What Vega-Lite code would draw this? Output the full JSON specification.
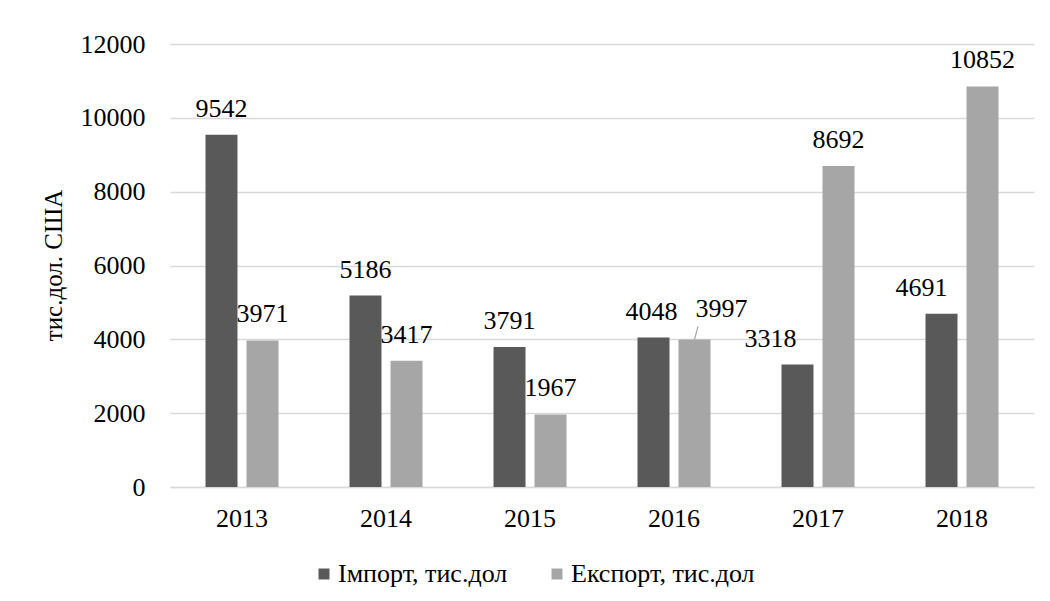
{
  "$schema": "https://vega.github.io/schema/vega-lite/v6.json",
  "autosize": "none",
  "width": 864,
  "height": 443,
  "padding": {"left": 170, "top": 44, "right": 16, "bottom": 114},
  "background": "white",
  "config": {
    "font": "Liberation Serif",
    "view": {"stroke": null},
    "text": {"font": "Liberation Serif"},
    "axis": {"labelFont": "Liberation Serif", "titleFont": "Liberation Serif", "labelFontSize": 26, "labelColor": "#000000", "titleColor": "#000000", "titleFontWeight": "normal", "titleFontSize": 25},
    "legend": {"labelFont": "Liberation Serif", "labelFontSize": 26, "labelColor": "#000000", "labelLimit": 400}
  },
  "data": {
    "values": [
      {"year": "2013", "series": "Імпорт, тис.дол", "value": 9542},
      {"year": "2013", "series": "Експорт, тис.дол", "value": 3971},
      {"year": "2014", "series": "Імпорт, тис.дол", "value": 5186},
      {"year": "2014", "series": "Експорт, тис.дол", "value": 3417},
      {"year": "2015", "series": "Імпорт, тис.дол", "value": 3791},
      {"year": "2015", "series": "Експорт, тис.дол", "value": 1967},
      {"year": "2016", "series": "Імпорт, тис.дол", "value": 4048},
      {"year": "2016", "series": "Експорт, тис.дол", "value": 3997},
      {"year": "2017", "series": "Імпорт, тис.дол", "value": 3318},
      {"year": "2017", "series": "Експорт, тис.дол", "value": 8692},
      {"year": "2018", "series": "Імпорт, тис.дол", "value": 4691},
      {"year": "2018", "series": "Експорт, тис.дол", "value": 10852}
    ]
  },
  "encoding": {
    "x": {
      "field": "year", "type": "nominal",
      "scale": {"paddingInner": 0.493, "paddingOuter": 0.2465},
      "axis": {"title": null, "labelAngle": 0, "ticks": false, "domainColor": "#d9d9d9", "domainWidth": 1.3, "labelPadding": 18}
    },
    "xOffset": {
      "field": "series", "type": "nominal",
      "sort": ["Імпорт, тис.дол", "Експорт, тис.дол"],
      "scale": {"paddingInner": 0.22, "paddingOuter": 0}
    },
    "y": {
      "field": "value", "type": "quantitative",
      "scale": {"domain": [0, 12000], "nice": false},
      "axis": {"title": "тис.дол. США", "values": [0, 2000, 4000, 6000, 8000, 10000, 12000], "format": "d", "domain": false, "ticks": false, "labelPadding": 25, "gridColor": "#d9d9d9", "gridWidth": 1.3, "titleX": -104, "titleY": 221, "titleAngle": -90, "titleAlign": "center"}
    }
  },
  "layer": [
    {
      "mark": {"type": "bar"},
      "encoding": {
        "color": {
          "field": "series", "type": "nominal",
          "sort": ["Імпорт, тис.дол", "Експорт, тис.дол"],
          "scale": {"domain": ["Імпорт, тис.дол", "Експорт, тис.дол"], "range": ["#595959", "#a6a6a6"]},
          "legend": {"title": null, "orient": "none", "direction": "horizontal", "legendX": 141, "legendY": 517, "symbolType": "square", "symbolSize": 120, "symbolStrokeWidth": 0, "labelOffset": 1, "columnPadding": 36, "labelLimit": 400}
        }
      }
    },
    {
      "transform": [{"filter": "datum.year != '2016' && datum.year != '2017' && datum.year != '2018' || datum.series == 'Експорт, тис.дол' && datum.year != '2016'"}],
      "mark": {"type": "text", "baseline": "bottom", "dy": -13, "fontSize": 26, "color": "#000000"},
      "encoding": {"text": {"field": "value", "type": "quantitative", "format": "d"}}
    },
    {
      "transform": [{"filter": "datum.year == '2016' && datum.series == 'Імпорт, тис.дол'"}],
      "mark": {"type": "text", "baseline": "bottom", "dy": -13, "dx": -2, "fontSize": 26, "color": "#000000"},
      "encoding": {"text": {"field": "value", "type": "quantitative", "format": "d"}}
    },
    {
      "transform": [{"filter": "datum.year == '2017' && datum.series == 'Імпорт, тис.дол'"}],
      "mark": {"type": "text", "baseline": "bottom", "dy": -13, "dx": -27, "fontSize": 26, "color": "#000000"},
      "encoding": {"text": {"field": "value", "type": "quantitative", "format": "d"}}
    },
    {
      "transform": [{"filter": "datum.year == '2018' && datum.series == 'Імпорт, тис.дол'"}],
      "mark": {"type": "text", "baseline": "bottom", "dy": -13, "dx": -20, "fontSize": 26, "color": "#000000"},
      "encoding": {"text": {"field": "value", "type": "quantitative", "format": "d"}}
    },
    {
      "transform": [{"filter": "datum.year == '2016' && datum.series == 'Експорт, тис.дол'"}],
      "mark": {"type": "text", "baseline": "bottom", "dy": -17, "dx": 27, "fontSize": 26, "color": "#000000"},
      "encoding": {"text": {"field": "value", "type": "quantitative", "format": "d"}}
    },
    {
      "transform": [{"filter": "datum.year == '2016' && datum.series == 'Експорт, тис.дол'"}],
      "mark": {"type": "rule", "color": "#a6a6a6", "strokeWidth": 1.2, "x2Offset": 24, "y2Offset": -13},
      "encoding": {
        "x2": {"field": "year"},
        "y2": {"field": "value"}
      }
    }
  ]
}
